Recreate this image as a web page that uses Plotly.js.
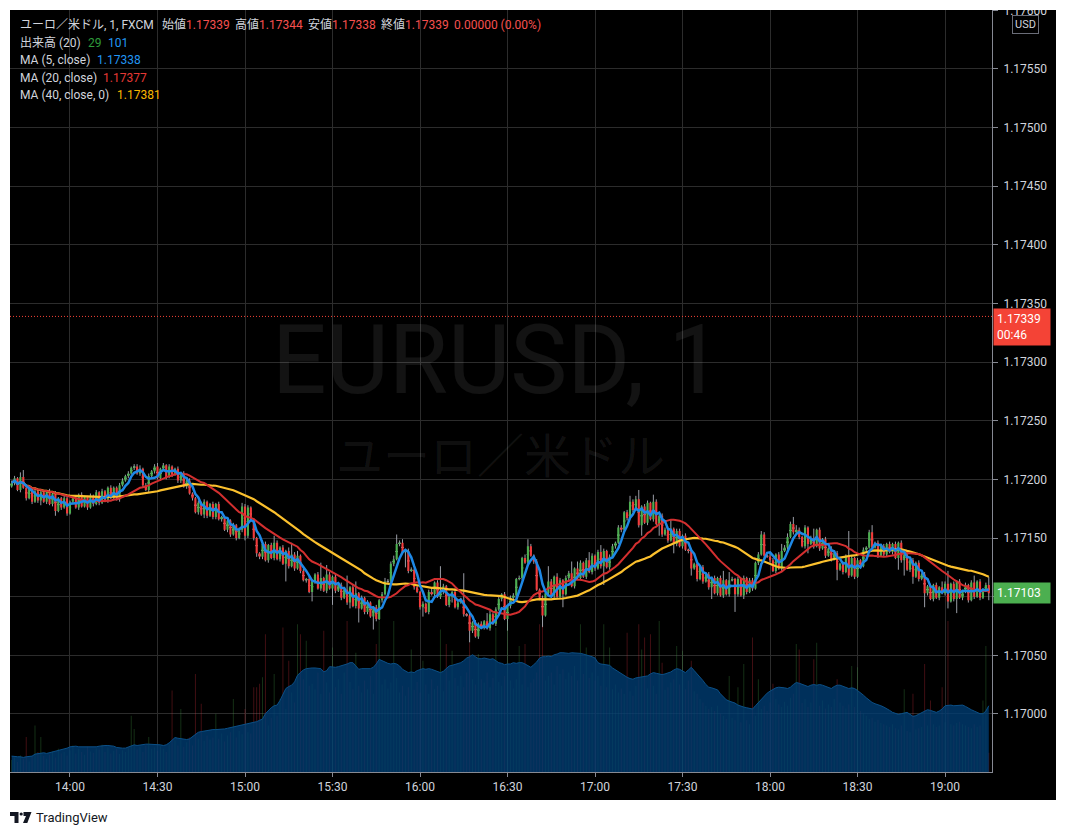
<!DOCTYPE html>
<html><head><meta charset="utf-8">
<script src="https://cdn.plot.ly/plotly-3.0.1.min.js"></script>
<style>html,body{margin:0;padding:0;background:#fff;}#chart{width:1066px;height:835px;}</style>
</head><body><div id="chart"></div>
<script>
// ---- DATA (prices in 0.00001 units above 1.17000) ----
const sessionDate = '2024-01-02';
const firstMinute = 13 * 60 + 40; // 13:40
const firstOpen = 194;
const closes = [
197,201,191,202,193,184,192,181,190,182,189,
181,190,179,188,173,184,176,
184,171,181,184,
176,187,177,185,176,186,179,
189,180,190,182,193,184,
193,183,
195,199,203,205,210,211,
205,
209,195,191,203,
207,211,201,209,212,202,211,204,
209,199,205,194,199,
188,184,172,180,
170,181,169,179,168,179,
166,168,157,165,153,161,
150,157,177,152,176,165,
150,137,134,
145,131,144,133,146,132,142,
128,139,126,136,124,135,
122,114,115,104,113,
119,107,116,105,119,107,117,105,
110,99,106,95,108,92,103,90,99,
87,95,83,91,81,
97,102,113,113,
128,132,145,146,138,
139,122,123,
108,104,91,94,87,
104,102,112,
100,104,109,93,100,104,91,95,97,
85,84,71,78,66,77,
74,79,73,85,77,89,
98,102,81,92,99,
101,115,116,133,129,143,135,
130,106,99,84,103,
113,101,117,100,114,102,116,
120,109,124,116,129,117,131,121,
135,124,138,126,139,125,134,
143,146,159,157,172,167,181,174,
183,161,177,163,180,166,181,162,
169,153,157,148,158,145,156,143,152,
140,139,124,128,115,125,113,119,
108,116,103,116,101,114,102,114,115,102,115,101,116,104,114,
107,129,136,153,
135,134,131,122,136,124,139,
142,151,162,155,157,
151,143,159,145,150,143,157,141,
149,135,141,132,137,123,128,121,
135,118,133,117,131,126,
140,142,155,142,
146,135,143,136,145,138,145,133,146,
131,136,123,131,117,129,115,
119,103,109,98,110,
99,108,103,111,96,111,98,113,99,104,110,97,112,100,113,99,106,110,103
];
const upperWick = [
2,2,1,4,6,1,2,1,2,1, 1,2,1,2,1,2,1,1,2,1, 1,2,1,1,2,1,1,2,1,2, 1,2,1,1,2,1,1,2,2,1,
2,1,2,2,3,1,2,2,1,2, 3,1,2,1,2,1,1,2,1,2, 1,2,1,1,2,1,2,1,1,2, 1,2,1,1,2,1,2,1,2,3,
2,2,1,2,1,1,3,2,1,2, 6,2,1,2,1,3,10,2,4,1, 2,1,3,2,1,2,13,1,8,2, 1,2,1,2,1,12,1,2,10,1,
2,1,2,1,1,2,1,2,3,2, 2,3,8,2,3,1,2,2,1,2, 1,2,1,2,3,1,2,22,2,1, 2,1,3,1,2,23,1,2,1,2,
1,2,1,7,3,1,2,3,1,2, 1,2,2,1,2,1,3,6,2,1, 2,1,2,1,13,2,1,3,2,1, 2,2,10,1,6,2,1,2,7,2,
1,2,6,2,1,2,2,1,2,2, 1,2,5,2,3,8,1,2,2,1, 6,2,1,2,2,1,8,1,2,2, 1,2,1,2,1,2,1,2,1,2,
1,2,1,2,8,1,7,2,1,2, 1,2,1,2,2,1,2,3,2,1, 4,2,1,2,6,2,3,2,6,4, 2,1,2,1,2,8,1,2,1,2,
1,2,1,2,1,2,1,21,2,1, 2,1,2,1,2,6,1,2,1,2, 1,2,1,2,1,2,1,2,1,2, 1,2,1,2,1,2,1,2,1,5,
2,11,1,2,1,2,1,2,1,2, 6,1,2,1,2,7
];
const lowerWick = [
1,2,1,2,1,2,1,2,1,2, 4,1,2,1,2,4,1,2,1,2, 1,2,1,2,1,1,2,1,2,1, 2,1,1,2,1,2,1,2,1,1,
2,1,2,1,2,2,1,2,1,2, 1,2,1,2,1,2,1,2,2,1, 2,1,2,1,2,1,3,2,1,2, 2,1,2,1,2,2,1,2,1,2,
4,2,1,2,3,2,2,1,2,1, 2,1,2,1,15,2,1,2,1,2, 1,2,1,8,2,1,2,1,2,1, 14,2,1,2,1,2,5,1,2,12,
1,2,2,1,11,2,1,2,1,2, 1,2,1,2,1,13,2,1,2,1, 2,8,1,2,1,2,1,2,2,1, 2,5,1,2,1,2,1,10,2,1,
2,1,2,1,2,1,2,1,2,1, 10,2,1,2,1,2,1,2,1,2, 1,2,10,1,2,1,2,1,2,11, 1,2,1,2,1,2,1,2,1,2,
2,1,2,16,1,2,1,2,1,2, 1,2,1,2,1,2,9,1,2,1, 2,1,10,2,1,2,1,8,2,1, 2,1,2,6,1,2,1,2,1,2,
10,1,2,1,2,1,2,1,15,2, 1,3,2,1,2,1,2,1,2,1, 2,1,2,1,2,1,2,1,2,1, 2,1,2,8,1,2,1,2,1,2,
1,2,1,9,1,2,1,2,1,2, 1,2,1,2,1,2,1,2,1,2, 2,1,2,1,10,2,13,1,2,6, 1,2,1,12,2,1,2,1,2,1,
2,6,1,2,12,1,2,1,2,1, 2,1,2,1,2,6
];
const volume = [
18,22,15,25,20,53,16,24,70,30, 53,24,20,26,31,22,35,28,30,25, 33,40,28,35,30,26,38,31,29,36, 34,41,30,37,28,32,35,27,33,30,
36,85,65,34,38,30,40,53,35,37, 32,39,35,30,42,123,48,40,95,38, 45,52,40,148,50,103,47,55,49,52, 88,50,58,46,55,60,110,52,62,57,
95,60,58,128,128,133,143,208,70,82, 148,85,110,218,95,168,120,105,223,208, 140,198,130,133,125,150,118,213,135,120, 188,128,140,118,150,228,136,125,180,130,
120,138,125,145,118,193,228,132,140,126, 135,228,142,120,130,115,128,185,124,136, 120,168,132,118,140,125,130,215,122,193, 138,183,142,130,145,128,150,195,140,132,
178,140,135,150,128,142,218,136,130,145, 228,138,126,140,190,132,193,128,135,140, 150,223,220,138,145,150,132,160,148,155, 140,150,145,160,138,223,148,188,142,150,
138,145,130,223,128,188,125,132,120,126, 118,210,122,115,130,223,185,203,126,208, 130,118,228,165,124,128,135,140,190,132, 183,125,138,168,122,118,110,105,100,95,
98,92,100,88,85,80,145,82,78,128, 75,163,78,72,203,85,140,95,100,92, 105,133,110,102,98,106,100,112,118,193, 185,104,110,98,105,170,195,100,108,96,
102,98,110,140,105,100,96,102,160,98, 158,92,88,85,80,82,76,79,74,72, 70,68,72,66,64,70,125,62,60,118, 64,66,68,163,70,108,72,68,70,128,
75,228,72,70,74,76,72,70,68,66, 72,68,70,108,190,29
];
const volumeMA = [
24,23,23,23,22,23,23,24,27,28, 28,29,28,29,30,32,33,34,35,36, 38,39,39,38,38,37,37,37,37,38, 39,40,40,40,40,39,37,36,36,36,
38,40,41,40,41,41,42,42,42,41, 42,41,40,41,44,48,52,51,50,50, 49,50,53,56,60,61,62,63,63,64, 64,64,65,65,66,67,67,68,69,70,
71,72,73,74,76,78,80,88,93,97, 100,101,108,118,126,129,131,136,146,150, 154,156,157,157,157,156,156,151,153,159, 158,158,159,160,162,163,165,165,160,155,
156,156,157,156,158,163,170,168,165,164, 163,164,163,160,155,152,150,151,150,153, 155,156,155,156,155,153,151,150,152,156, 160,161,162,163,165,168,172,174,177,174,
171,171,172,171,170,171,168,165,164,162, 163,163,165,164,165,165,163,160,158,162, 166,172,174,174,175,174,177,178,180,180, 179,179,180,180,179,179,178,177,175,174,
172,165,163,162,162,161,157,154,151,148, 145,143,141,140,142,143,144,144,145,148, 150,149,148,147,148,149,151,154,156,155, 152,150,154,158,153,148,144,138,132,128,
127,125,124,118,113,109,107,106,104,101, 99,98,97,96,95,100,105,110,115,119, 122,125,127,128,128,127,126,128,132,135, 134,132,130,129,131,132,131,132,131,129,
127,126,129,131,131,129,127,126,127,126, 123,120,116,112,108,105,103,102,100,98, 96,93,90,88,87,88,89,90,87,84, 85,87,89,92,94,93,91,90,92,95,
100,101,101,100,100,100,101,99,96,94, 92,90,88,88,92,100
];
const priceTicks = [1.170, 1.1705, 1.171, 1.1715, 1.172, 1.1725, 1.173, 1.1735, 1.174, 1.1745, 1.175, 1.1755, 1.176];
const priceTickText = ['1.17000','1.17050','','1.17150','1.17200','1.17250','1.17300','1.17350','1.17400','1.17450','1.17500','1.17550','1.17600'];
const legendValues = {open:'1.17339', high:'1.17344', low:'1.17338', close:'1.17339', change:'0.00000 (0.00%)',
  vol:'29', volMA:'101', ma5:'1.17338', ma20:'1.17377', ma40:'1.17381'};
const lastPriceLabel = 1.17339, lastPriceTimer = '00:46';
const closePriceLabel = 1.17103;

// ---- helpers ----
const P = v => 1.17 + v / 100000;
function timeOf(i){ const t = firstMinute + i; return sessionDate + ' ' + String(Math.floor(t/60)).padStart(2,'0') + ':' + String(t%60).padStart(2,'0'); }
const n = closes.length;
const times = closes.map((_, i) => timeOf(i));
const opens = closes.map((c, i) => i === 0 ? firstOpen : closes[i-1]);
const highs = closes.map((c, i) => Math.max(opens[i], c) + upperWick[i]);
const lows = closes.map((c, i) => Math.min(opens[i], c) - lowerWick[i]);
const up = closes.map((c, i) => c >= opens[i]);
function sma(len){ return closes.map((_, i) => { const s = Math.max(0, i-len+1); let sum = 0; for (let k = s; k <= i; k++) sum += closes[k]; return P(sum/(i-s+1)); }); }
const mid = closes.map((c, i) => P((c + opens[i]) / 2));

const GREEN = '#4caf50', RED = '#f23b3b', WICK = '#9a9da6';
const traces = [
  // wicks: gray candlestick whose collapsed body is hidden under the coloured body
  {type:'candlestick', x:times, open:mid, close:mid, high:highs.map(P), low:lows.map(P), whiskerwidth:0,
   increasing:{line:{color:WICK, width:1}, fillcolor:WICK}, decreasing:{line:{color:WICK, width:1}, fillcolor:WICK}, hoverinfo:'skip', showlegend:false},
  // bodies
  {type:'candlestick', x:times, open:opens.map(P), close:closes.map(P), high:closes.map((c,i)=>P(Math.max(c,opens[i]))), low:closes.map((c,i)=>P(Math.min(c,opens[i]))),
   whiskerwidth:0, increasing:{line:{color:GREEN, width:0}, fillcolor:GREEN}, decreasing:{line:{color:RED, width:0}, fillcolor:RED}, hoverinfo:'skip', showlegend:false},
  {type:'scatter', mode:'lines', x:times, y:sma(40), line:{color:'#fbc02d', width:2.2}, hoverinfo:'skip'},
  {type:'scatter', mode:'lines', x:times, y:sma(20), line:{color:'#d32f2f', width:2}, hoverinfo:'skip'},
  {type:'scatter', mode:'lines', x:times, y:sma(5), line:{color:'#1e88e5', width:2.5}, hoverinfo:'skip'},
  {type:'bar', x:times, y:volume, width:20000, marker:{color:up.map(u=>u?'rgba(76,175,80,0.28)':'rgba(242,54,69,0.28)'), line:{width:0}}, hoverinfo:'skip', xaxis:'x', yaxis:'y2'},
  {type:'scatter', mode:'lines', x:times, y:volumeMA, fill:'tozeroy', fillcolor:'rgba(0,62,116,0.78)', line:{color:'#0b4f86', width:1}, hoverinfo:'skip', xaxis:'x', yaxis:'y2'}
];

// ---- layout (pixel helpers) ----
const L = 10, R = 992, T = 10, B = 772, W = R - L, H = B - T;
const fx = p => (p - L) / W, fy = p => (B - p) / H;
const TXT = '#d1d4dc';
const FONT = 'Roboto, "Noto Sans CJK JP", sans-serif';
function ann(text, px, py, opts){ return Object.assign({text:text, xref:'paper', yref:'paper', x:fx(px), y:fy(py), xanchor:'left', yanchor:'middle', showarrow:false, font:{family:FONT, size:12, color:TXT}}, opts||{}); }
const RV = '#f5504f';
const annotations = [
  ann('ユーロ／米ドル, 1, FXCM', 18, 25),
  ann('始値<span style="color:'+RV+'">'+legendValues.open+'</span>', 160, 25),
  ann('高値<span style="color:'+RV+'">'+legendValues.high+'</span>', 233, 25),
  ann('安値<span style="color:'+RV+'">'+legendValues.low+'</span>', 306, 25),
  ann('終値<span style="color:'+RV+'">'+legendValues.close+'</span>', 379, 25),
  ann('<span style="color:'+RV+'">'+legendValues.change+'</span>', 452, 25),
  ann('出来高 (20)', 18, 43),
  ann(legendValues.vol, 86, 43, {font:{family:FONT,size:12,color:'#2e9b3a'}}),
  ann(legendValues.volMA, 106, 43, {font:{family:FONT,size:12,color:'#2196f3'}}),
  ann('MA (5, close)', 18, 60),
  ann(legendValues.ma5, 95, 60, {font:{family:FONT,size:12,color:'#2196f3'}}),
  ann('MA (20, close)', 18, 78),
  ann(legendValues.ma20, 101, 78, {font:{family:FONT,size:12,color:'#e53935'}}),
  ann('MA (40, close, 0)', 18, 95),
  ann(legendValues.ma40, 115, 95, {font:{family:FONT,size:12,color:'#f9b800'}}),
  ann('EURUSD, 1', 497, 360, {xanchor:'center', font:{family:FONT, size:96, color:'rgba(255,255,255,0.075)'}}),
  ann('ユーロ／米ドル', 500, 452, {xanchor:'center', font:{family:'"Noto Sans CJK JP", sans-serif', size:47, color:'rgba(255,255,255,0.075)'}}),
  {text:lastPriceLabel.toFixed(5)+'<br>'+lastPriceTimer, xref:'paper', yref:'y', x:fx(993), y:lastPriceLabel, xanchor:'left', yanchor:'top', yshift:8,
   showarrow:false, align:'left', bgcolor:'#f44336', borderpad:3, width:50, font:{family:FONT,size:12,color:'#ffffff'}},
  {text:closePriceLabel.toFixed(5), xref:'paper', yref:'y', x:fx(993), y:closePriceLabel, xanchor:'left', yanchor:'middle',
   showarrow:false, align:'left', bgcolor:'#4caf50', borderpad:3, width:50, font:{family:FONT,size:12,color:'#ffffff'}},
  ann('USD', 1025, 25, {xanchor:'center', bgcolor:'#000', bordercolor:'#6a6d78', borderwidth:1, borderpad:2, font:{family:FONT,size:11,color:TXT}}),
  ann('TradingView', 34, 817.5, {font:{family:FONT, size:13, color:'#131722'}})
];
const white = '#ffffff';
const shapes = [
  {type:'line', xref:'paper', yref:'y', x0:0, x1:1, y0:lastPriceLabel, y1:lastPriceLabel, line:{color:'#f44336', width:1, dash:'1px,2px'}},
  {type:'rect', xref:'paper', yref:'paper', x0:-0.05, x1:1.12, y0:fy(T), y1:fy(-20), fillcolor:white, line:{width:0}, layer:'above'},
  {type:'rect', xref:'paper', yref:'paper', x0:fx(-20), x1:fx(L), y0:fy(900), y1:fy(-20), fillcolor:white, line:{width:0}, layer:'above'},
  {type:'rect', xref:'paper', yref:'paper', x0:fx(1056), x1:fx(1100), y0:fy(900), y1:fy(-20), fillcolor:white, line:{width:0}, layer:'above'},
  {type:'rect', xref:'paper', yref:'paper', x0:-0.05, x1:1.12, y0:fy(900), y1:fy(800), fillcolor:white, line:{width:0}, layer:'above'},
  {type:'path', xref:'paper', yref:'paper', layer:'above', fillcolor:'#131722', line:{width:0},
   path:'M'+fx(10)+','+fy(812)+' L'+fx(18.5)+','+fy(812)+' L'+fx(18.5)+','+fy(823)+' L'+fx(14.5)+','+fy(823)+' L'+fx(14.5)+','+fy(816)+' L'+fx(10)+','+fy(816)+' Z'},
  {type:'circle', xref:'paper', yref:'paper', layer:'above', fillcolor:'#131722', line:{width:0}, x0:fx(19.6), x1:fx(22.8), y0:fy(815.6), y1:fy(812.4)},
  {type:'path', xref:'paper', yref:'paper', layer:'above', fillcolor:'#131722', line:{width:0},
   path:'M'+fx(23.5)+','+fy(812)+' L'+fx(31.5)+','+fy(812)+' L'+fx(27.3)+','+fy(823)+' L'+fx(23)+','+fy(823)+' L'+fx(26)+','+fy(816)+' L'+fx(23.5)+','+fy(816)+' Z'}
];

const layout = {
  width:1066, height:835, margin:{l:L, r:1066-R, t:T, b:835-B, pad:0},
  paper_bgcolor:'#000', plot_bgcolor:'#000', showlegend:false, barmode:'overlay', boxgap:0.1, boxgroupgap:0.2,
  font:{family:FONT, size:12, color:TXT},
  xaxis:{type:'date', range:[sessionDate+' 13:39:26', sessionDate+' 19:16:06'], tickformat:'%H:%M', dtick:1800000, tick0:sessionDate+' 14:00',
    showgrid:true, gridcolor:'#2c2c2c', gridwidth:1, ticks:'outside', ticklen:4, tickcolor:'#868993', showline:true, linecolor:'#868993', linewidth:1,
    zeroline:false, tickfont:{family:FONT, size:12, color:TXT}, fixedrange:true, rangeslider:{visible:false}},
  yaxis:{range:[1.169505, 1.176003], side:'right', tickmode:'array', tickvals:priceTicks, ticktext:priceTickText, showgrid:true, gridcolor:'#2c2c2c', gridwidth:1,
    ticks:'outside', ticklen:5, tickcolor:'#868993', showline:true, linecolor:'#868993', linewidth:1, zeroline:false, ticklabelstandoff:3,
    tickfont:{family:FONT, size:12, color:TXT}, fixedrange:true},
  yaxis2:{overlaying:'y', range:[0,1150], visible:false, fixedrange:true},
  annotations:annotations, shapes:shapes
};
Plotly.newPlot('chart', traces, layout, {staticPlot:true, displayModeBar:false});
</script></body></html>
